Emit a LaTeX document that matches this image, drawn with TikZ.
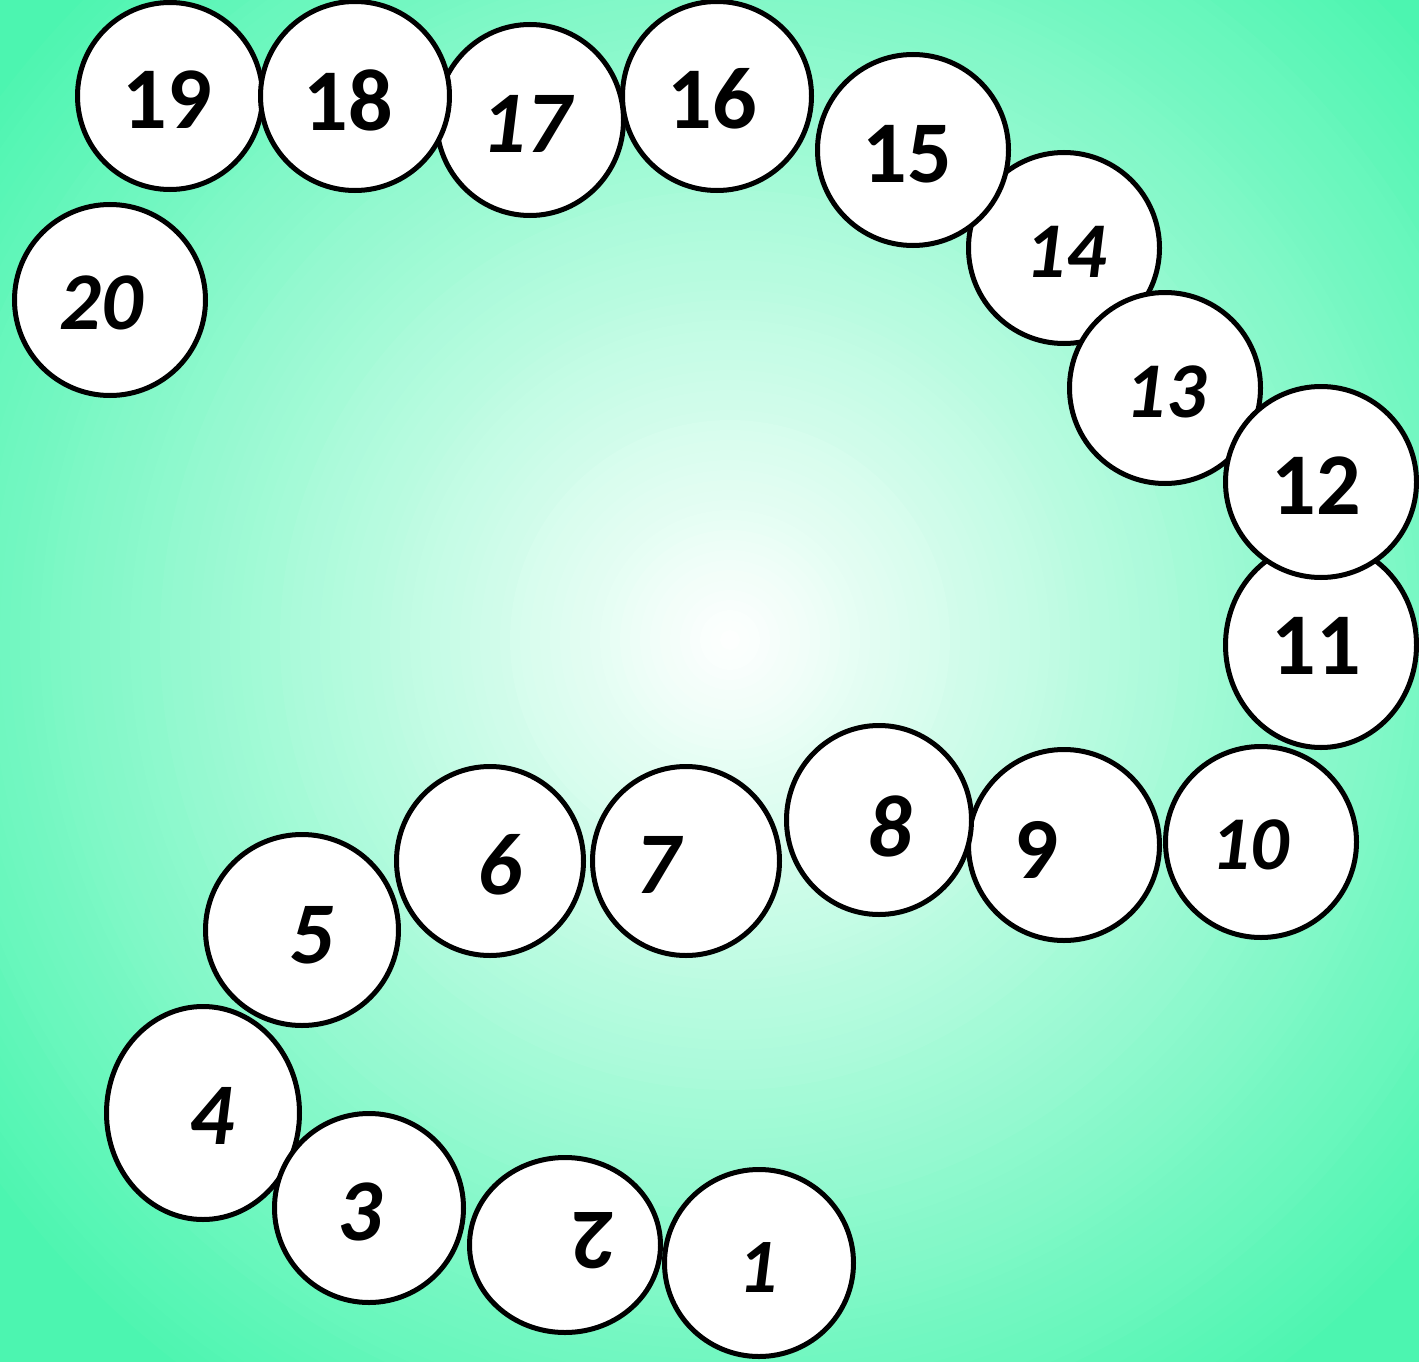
\documentclass[tikz,border=0pt]{standalone}
\usepackage{fontspec}
\setmainfont{Carlito}
\usetikzlibrary{shapes.geometric}
\definecolor{bggreen}{RGB}{76,245,176}
\tikzset{
  ball/.style={ellipse, draw=black, line width=5pt, fill=white, inner sep=0pt, outer sep=0pt},
  upnum/.style={inner sep=0pt, text=black, font=\fontsize{#1}{#1}\selectfont\bfseries},
  itnum/.style={inner sep=0pt, text=black, font=\fontsize{#1}{#1}\selectfont\bfseries\itshape}
}
\begin{document}
\begin{tikzpicture}[x=1pt,y=-1pt]
\useasboundingbox (0,0) rectangle (1419,1362);
\clip (0,0) rectangle (1419,1362);
% radial background: white centre, green edges
\fill[bggreen] (0,0) rectangle (1419,1362);
\foreach \i in {110,109,...,1}{
  \pgfmathtruncatemacro{\p}{min(100,\i*10/9.2)}
  \fill[bggreen!\p!white] (730,640) circle[radius=\i*10];
}
% circles (drawing order matters for overlaps)
\node[ball, minimum width=191, minimum height=191] (c20) at (110,300) {};
\node[ball, minimum width=185, minimum height=187] (c19) at (170,96) {};
\node[ball, minimum width=189, minimum height=189] (c16) at (717,96) {};
\node[ball, minimum width=187, minimum height=191] (c17) at (530,120) {};
\node[ball, minimum width=189, minimum height=189] (c18) at (355,96) {};
\node[ball, minimum width=191, minimum height=191] (c14) at (1064,248) {};
\node[ball, minimum width=191, minimum height=191] (c15) at (913,150) {};
\node[ball, minimum width=191, minimum height=191] (c13) at (1165,388) {};
\node[ball, minimum width=191, minimum height=205] (c11) at (1321,645) {};
\node[ball, minimum width=191, minimum height=191] (c12) at (1321,482) {};
\node[ball, minimum width=191, minimum height=191] (c10) at (1261,842) {};
\node[ball, minimum width=191, minimum height=191] (c9) at (1064,845) {};
\node[ball, minimum width=185, minimum height=189] (c8) at (879,820) {};
\node[ball, minimum width=187, minimum height=189] (c7) at (686,861) {};
\node[ball, minimum width=187, minimum height=189] (c6) at (490,861) {};
\node[ball, minimum width=193, minimum height=191] (c5) at (302,930) {};
\node[ball, minimum width=193, minimum height=213] (c4) at (203,1113) {};
\node[ball, minimum width=189, minimum height=189] (c3) at (369,1208) {};
\node[ball, minimum width=191, minimum height=175] (c2) at (565,1245) {};
\node[ball, minimum width=189, minimum height=187] (c1) at (759,1263) {};
% numbers
\node[itnum=77] (t1) at (758,1268) {1};
\node[upnum=86, rotate=180] (t2) at (594,1241) {2};
\node[itnum=88] (t3) at (360,1212) {3};
\node[itnum=88] (t4) at (212,1116) {4};
\node[itnum=88] (t5) at (312,935) {5};
\node[itnum=88] (t6) at (500,865) {6};
\node[itnum=88] (t7) at (658,865) {7};
\node[itnum=88] (t8) at (890,826) {8};
\node[upnum=87] (t9) at (1037,850) {9};
\node[itnum=76] (t10) at (1250,845) {10};
\node[upnum=88] (t11) at (1316,646) {11};
\node[upnum=88] (t12) at (1316,486) {12};
\node[itnum=79] (t13) at (1166,392) {13};
\node[itnum=79] (t14) at (1066,252) {14};
\node[upnum=88] (t15) at (907,154) {15};
\node[upnum=88] (t16) at (712,99) {16};
\node[itnum=88] (t17) at (526,124) {17};
\node[upnum=88] (t18) at (348,100) {18};
\node[upnum=88] (t19) at (167,100) {19};
\node[itnum=82] (t20) at (101,303) {20};
\end{tikzpicture}
\end{document}
